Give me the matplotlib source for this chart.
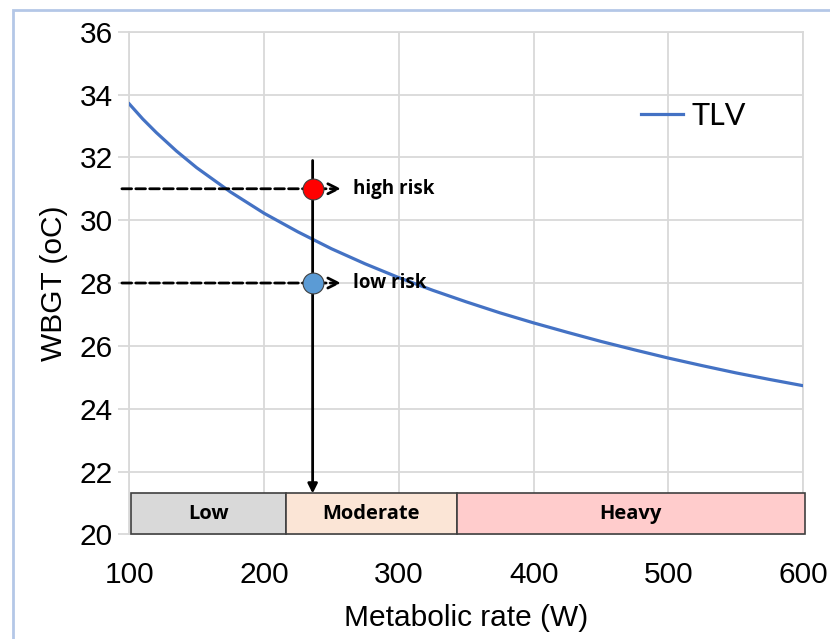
import matplotlib
matplotlib.use('Agg')
import matplotlib.pyplot as plt
from matplotlib.patches import Rectangle

# ---------- data ----------
metabolic = [100, 110, 120, 135, 150, 175, 200, 225, 250, 275, 300, 325, 350,
             375, 400, 425, 450, 475, 500, 525, 550, 575, 600]
tlv = [33.70, 33.22, 32.79, 32.20, 31.67, 30.90, 30.22, 29.63, 29.09, 28.61, 28.17,
       27.77, 27.40, 27.05, 26.73, 26.43, 26.14, 25.87, 25.61, 25.37, 25.14, 24.93, 24.73]

work_rate = 236
risk_labels = ['high risk', 'low risk']
risk_wbgt = [31.0, 28.0]
risk_colors = ['#FF0000', '#5B9BD5']

class_names = ['Low', 'Moderate', 'Heavy']
class_start = [101.5, 216, 343]
class_end = [216, 343, 601]
class_colors = ['#D9D9D9', '#FBE5D6', '#FFCCCC']

xticks = [100, 200, 300, 400, 500, 600]
yticks = [20, 22, 24, 26, 28, 30, 32, 34, 36]

# ---------- figure ----------
fig = plt.figure(figsize=(8.3, 6.39), dpi=100)
ax = fig.add_axes([0.1558, 0.1638, 0.812, 0.7866])

# light blue outer frame
fig.patches.append(Rectangle((13 / 830, -0.1), 1.1, 1 - 10 / 639 + 0.1,
                             transform=fig.transFigure, fill=False,
                             edgecolor='#B4C7E7', lw=2, zorder=0))

ax.plot(metabolic, tlv, color='#4472C4', lw=2.3, label='TLV', zorder=3)

ax.set_xlim(100, 600)
ax.set_ylim(20, 36)
ax.set_xticks(xticks)
ax.set_yticks(yticks)
ax.grid(True, color='#D9D9D9', lw=1.3)
ax.set_axisbelow(True)
for s in ax.spines.values():
    s.set_color('#D9D9D9')
    s.set_linewidth(1.3)
ax.tick_params(axis='y', length=8, color='#D9D9D9', width=1.3, pad=4)
ax.tick_params(axis='x', length=0, pad=19)
for lab in ax.get_xticklabels() + ax.get_yticklabels():
    lab.set_fontsize(21.5)
    lab.set_family('Liberation Sans')
ax.set_xlabel('Metabolic rate (W)', fontsize=21.5, family='Liberation Sans', labelpad=11)
ax.set_ylabel('WBGT (oC)', fontsize=21.5, family='Liberation Sans', labelpad=8)

# work class boxes
for name, x0, x1, c in zip(class_names, class_start, class_end, class_colors):
    ax.add_patch(Rectangle((x0, 20.0), x1 - x0, 1.3, facecolor=c,
                           edgecolor='#404040', lw=1.2, zorder=4, clip_on=False))
    ax.text((x0 + x1) / 2, 20.65, name, ha='center', va='center', fontsize=14.5,
            fontweight='bold', family='Open Sans', zorder=5)

# vertical arrow down to the work class
ax.annotate('', xy=(work_rate, 21.3), xytext=(work_rate, 31.9),
            arrowprops=dict(arrowstyle='-|>', color='black', lw=2,
                            mutation_scale=14, shrinkA=0, shrinkB=0), zorder=6)

# dashed risk arrows and markers
for lab, yv, c in zip(risk_labels, risk_wbgt, risk_colors):
    ax.annotate('', xy=(257, yv), xytext=(94.5, yv),
                arrowprops=dict(arrowstyle='->', color='black', lw=2, ls=(0, (3.5, 1.5)),
                                mutation_scale=18, shrinkA=0, shrinkB=0),
                annotation_clip=False, zorder=6)
    ax.plot([work_rate], [yv], 'o', ms=15, mfc=c, mec='#404040', mew=0.8, zorder=7)
    ax.text(266, yv, lab, ha='left', va='center', fontsize=13.5, fontweight='bold',
            family='Open Sans', zorder=7)

ax.legend(loc='upper right', bbox_to_anchor=(0.955, 0.915), frameon=False,
          handlelength=1.4, handletextpad=0.25,
          prop={'family': 'Lato', 'size': 22})

fig.savefig('out.png', dpi=100)
